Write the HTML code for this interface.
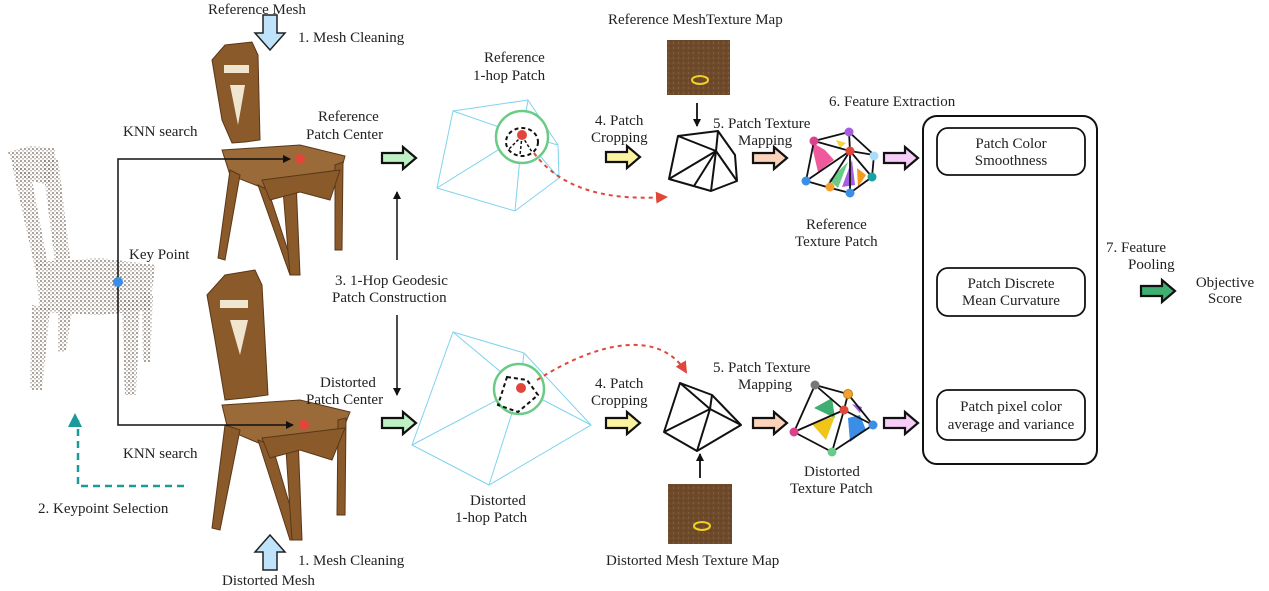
<!DOCTYPE html>
<html><head><meta charset="utf-8"><style>
html,body{margin:0;padding:0;background:#fff;}
svg{display:block;}
text{font-family:"Liberation Serif",serif;font-size:15px;fill:#222;}
</style></head><body>
<svg width="1269" height="591" viewBox="0 0 1269 591" xmlns="http://www.w3.org/2000/svg">
<defs>
<symbol id="ba" viewBox="0 0 36 24" overflow="visible">
<polygon points="1,7 22,7 22,1 35,12 22,23 22,17 1,17" stroke="#111" stroke-width="2.2" stroke-linejoin="miter"/>
</symbol>
<pattern id="dots" width="4" height="4" patternUnits="userSpaceOnUse">
<circle cx="1" cy="1" r="0.9" fill="#3e2e24"/><circle cx="3" cy="2.8" r="0.8" fill="#8a7a70"/>
</pattern>
<pattern id="tex" width="5" height="5" patternUnits="userSpaceOnUse">
<circle cx="1" cy="1" r="0.8" fill="#4a3a30"/><circle cx="3.5" cy="3" r="0.7" fill="#9a7a50"/>
</pattern>
<marker id="ah" markerWidth="8" markerHeight="8" refX="7" refY="4" orient="auto" markerUnits="userSpaceOnUse"><path d="M0,0 L8,4 L0,8 z" fill="#111"/></marker>
<marker id="ahr" markerWidth="12" markerHeight="12" refX="10" refY="6" orient="auto" markerUnits="userSpaceOnUse"><path d="M0,0 L12,6 L0,12 z" fill="#e0473a"/></marker>
<marker id="aht" markerWidth="14" markerHeight="14" refX="7" refY="10" orient="auto" markerUnits="userSpaceOnUse"><path d="M0,0 L14,7 L0,14 z" fill="#1a9a9a"/></marker>
</defs>

<!-- point cloud -->
<g fill="url(#dots)" opacity="0.75">
<path d="M8,152 L30,146 L55,148 L55,170 L48,185 L28,180 L15,170 Z"/>
<path d="M12,165 L30,170 L48,265 L35,268 Z"/>
<path d="M42,160 L58,158 L70,258 L55,262 Z"/>
<path d="M35,262 L100,258 L155,265 L150,310 L100,315 L40,312 Z"/>
<path d="M32,305 L50,308 L42,390 L30,390 Z"/>
<path d="M58,308 L72,310 L66,352 L58,352 Z"/>
<path d="M122,300 L140,300 L136,395 L125,395 Z"/>
<path d="M142,290 L153,295 L150,362 L143,362 Z"/>
</g>

<!-- ref chair -->
<g fill="#8a5a2b" stroke="#5a3718" stroke-width="1">
<path d="M212,60 L225,45 L252,42 L258,55 L260,140 L245,142 L232,143 L222,120 Z"/>
<path d="M222,150 L300,145 L345,156 L340,175 L268,190 L230,175 Z" fill="#9a6a38"/>
<path d="M230,170 L240,175 L225,260 L218,258 Z"/>
<path d="M258,185 L268,190 L296,275 L290,275 Z"/>
<path d="M282,178 L296,180 L300,275 L290,275 Z"/>
<path d="M335,165 L343,162 L342,250 L335,250 Z"/>
<path d="M262,180 L340,170 L330,200 L300,192 L270,200 Z"/>
</g>
<g fill="#f0e6d0"><rect x="224" y="65" width="25" height="8"/><path d="M230,85 L245,85 L238,125 Z"/></g>

<!-- distorted chair -->
<g fill="#8a5a2b" stroke="#5a3718" stroke-width="1">
<path d="M207,295 L225,275 L255,270 L262,285 L268,395 L245,398 L225,400 L215,340 Z"/>
<path d="M222,405 L300,400 L350,412 L342,432 L270,448 L228,430 Z" fill="#9a6a38"/>
<path d="M225,425 L240,430 L220,530 L212,528 Z"/>
<path d="M258,440 L272,445 L300,540 L290,540 Z"/>
<path d="M285,435 L298,436 L302,540 L292,540 Z"/>
<path d="M338,420 L346,418 L345,515 L337,515 Z"/>
<path d="M262,438 L345,428 L332,460 L300,450 L270,458 Z"/>
</g>
<g fill="#f0e6d0"><rect x="220" y="300" width="28" height="8"/><path d="M230,320 L248,320 L240,355 Z"/></g>

<!-- KNN lines -->
<path d="M118,283 L118,159 L290,159" fill="none" stroke="#111" stroke-width="1.5" marker-end="url(#ah)"/>
<path d="M118,283 L118,425 L293,425" fill="none" stroke="#111" stroke-width="1.5" marker-end="url(#ah)"/>
<circle cx="118" cy="282" r="5" fill="#3a8ee8"/>
<circle cx="300" cy="159" r="5" fill="#e0473a"/>
<circle cx="304" cy="425" r="5" fill="#e0473a"/>
<text x="123" y="136">KNN search</text>
<text x="123" y="458">KNN search</text>
<text x="129" y="259">Key Point</text>

<!-- teal dashed -->
<path d="M184,486 L78,486 L78,420" fill="none" stroke="#1a9a9a" stroke-width="2.5" stroke-dasharray="7,5" marker-end="url(#aht)"/>
<text x="38" y="513">2.  Keypoint Selection</text>

<!-- mesh cleaning arrows -->
<polygon points="263,15 277,15 277,33 285,33 270,50 255,33 263,33" fill="#bfe3fb" stroke="#222" stroke-width="1.5"/>
<polygon points="263,570 277,570 277,552 285,552 270,535 255,552 263,552" fill="#bfe3fb" stroke="#222" stroke-width="1.5"/>
<text x="208" y="14">Reference Mesh</text>
<text x="298" y="42">1.  Mesh  Cleaning</text>
<text x="298" y="565">1.  Mesh  Cleaning</text>
<text x="222" y="585">Distorted Mesh</text>

<text x="318" y="121">Reference</text>
<text x="306" y="139">Patch Center</text>
<text x="320" y="387">Distorted</text>
<text x="306" y="404">Patch Center</text>

<!-- green arrows -->
<use href="#ba" x="381" y="146" width="36" height="24" fill="#bff0c4"/>
<use href="#ba" x="381" y="411" width="36" height="24" fill="#bff0c4"/>

<!-- vertical arrows -->
<line x1="397" y1="260" x2="397" y2="192" stroke="#111" stroke-width="1.5" marker-end="url(#ah)"/>
<line x1="397" y1="315" x2="397" y2="395" stroke="#111" stroke-width="1.5" marker-end="url(#ah)"/>
<text x="335" y="285">3.  1-Hop Geodesic</text>
<text x="332" y="302">Patch Construction</text>

<!-- ref patch -->
<g stroke="#7fd3ee" stroke-width="1" fill="none">
<polygon points="453,111 528,100 558,145 559,178 515,211 437,188"/>
<line x1="453" y1="111" x2="522" y2="135"/><line x1="528" y1="100" x2="522" y2="135"/>
<line x1="558" y1="145" x2="522" y2="135"/><line x1="559" y1="178" x2="522" y2="135"/>
<line x1="515" y1="211" x2="522" y2="135"/><line x1="437" y1="188" x2="522" y2="135"/>
</g>
<circle cx="522" cy="137" r="26" fill="#fff" stroke="#6acb87" stroke-width="2.5"/>
<ellipse cx="522" cy="142" rx="16" ry="14" fill="none" stroke="#111" stroke-width="2" stroke-dasharray="4,3"/>
<g stroke="#111" stroke-width="1.5" stroke-dasharray="3,2"><line x1="522" y1="136" x2="508" y2="150"/><line x1="522" y1="136" x2="520" y2="155"/><line x1="522" y1="136" x2="532" y2="152"/></g>
<circle cx="522" cy="135" r="5" fill="#e0473a"/>
<path d="M534,153 C565,195 620,200 666,197" fill="none" stroke="#e0473a" stroke-width="2" stroke-dasharray="4,4" marker-end="url(#ahr)"/>
<text x="484" y="62">Reference</text>
<text x="473" y="80">1-hop Patch</text>

<!-- dist patch -->
<g stroke="#7fd3ee" stroke-width="1" fill="none">
<polygon points="453,332 524,353 591,425 489,485 412,445"/>
<line x1="453" y1="332" x2="520" y2="388"/><line x1="524" y1="353" x2="520" y2="388"/>
<line x1="591" y1="425" x2="520" y2="388"/><line x1="489" y1="485" x2="520" y2="388"/><line x1="412" y1="445" x2="520" y2="388"/>
</g>
<circle cx="519" cy="389" r="25" fill="#fff" stroke="#6acb87" stroke-width="2.5"/>
<path d="M507,377 L527,380 L538,395 L518,412 L498,405 Z" fill="none" stroke="#111" stroke-width="2" stroke-dasharray="4,3"/>
<circle cx="521" cy="388" r="5" fill="#e0473a"/>
<path d="M537,380 C600,340 660,330 686,372" fill="none" stroke="#e0473a" stroke-width="2" stroke-dasharray="4,4" marker-end="url(#ahr)"/>
<text x="470" y="505">Distorted</text>
<text x="455" y="522">1-hop Patch</text>

<!-- patch cropping -->
<text x="595" y="125">4.  Patch</text>
<text x="591" y="142">Cropping</text>
<text x="595" y="388">4.  Patch</text>
<text x="591" y="405">Cropping</text>
<use href="#ba" x="605" y="145" width="36" height="24" fill="#fbf3a0"/>
<use href="#ba" x="605" y="411" width="36" height="24" fill="#fbf3a0"/>

<!-- texture maps -->
<rect x="667" y="40" width="63" height="55" fill="#6e4a2a"/>
<rect x="667" y="40" width="63" height="55" fill="url(#tex)" opacity="0.6"/>
<ellipse cx="700" cy="80" rx="8" ry="4" fill="none" stroke="#f0d020" stroke-width="2"/>
<text x="608" y="24">Reference MeshTexture Map</text>
<line x1="697" y1="103" x2="697" y2="126" stroke="#111" stroke-width="1.8" marker-end="url(#ah)"/>
<rect x="668" y="484" width="64" height="60" fill="#6e4a2a"/>
<rect x="668" y="484" width="64" height="60" fill="url(#tex)" opacity="0.6"/>
<ellipse cx="702" cy="526" rx="8" ry="4" fill="none" stroke="#f0d020" stroke-width="2"/>
<text x="606" y="565">Distorted Mesh Texture Map</text>
<line x1="700" y1="478" x2="700" y2="454" stroke="#111" stroke-width="1.8" marker-end="url(#ah)"/>

<!-- black meshes -->
<g stroke="#111" stroke-width="2" fill="none" stroke-linejoin="round">
<polygon points="678,136 718,131 735,155 737,181 711,191 669,179"/>
<line x1="678" y1="136" x2="716" y2="151"/><line x1="718" y1="131" x2="716" y2="151"/>
<line x1="716" y1="151" x2="669" y2="179"/><line x1="716" y1="151" x2="694" y2="186"/>
<line x1="716" y1="151" x2="711" y2="191"/><line x1="716" y1="151" x2="737" y2="181"/>
<polygon points="680,383 712,395 741,425 697,451 664,432"/>
<line x1="712" y1="395" x2="710" y2="409"/><line x1="680" y1="383" x2="710" y2="409"/>
<line x1="710" y1="409" x2="741" y2="425"/><line x1="710" y1="409" x2="664" y2="432"/><line x1="710" y1="409" x2="697" y2="451"/>
</g>

<!-- patch texture mapping -->
<text x="713" y="128">5.  Patch Texture</text>
<text x="738" y="145">Mapping</text>
<text x="713" y="372">5.  Patch Texture</text>
<text x="738" y="389">Mapping</text>
<use href="#ba" x="752" y="146" width="36" height="24" fill="#fbd3bb"/>
<use href="#ba" x="752" y="411" width="36" height="24" fill="#fbd3bb"/>

<!-- ref texture patch -->
<polygon points="811,142 825,150 834,160 818,172" fill="#ef5a9c"/>
<polygon points="836,140 846,143 840,148" fill="#f5d33a"/>
<polygon points="829,180 848,162 838,188" fill="#6acb87"/>
<polygon points="842,187 852,160 855,185" fill="#a45ee0"/>
<polygon points="857,168 866,175 858,187" fill="#f59a1a"/>
<g stroke="#111" stroke-width="1.8" fill="none">
<polygon points="814,141 849,132 874,155 872,177 850,193 827,187 806,181"/>
<line x1="814" y1="141" x2="850" y2="151"/><line x1="849" y1="132" x2="850" y2="151"/>
<line x1="874" y1="155" x2="850" y2="151"/><line x1="872" y1="177" x2="850" y2="151"/>
<line x1="850" y1="193" x2="850" y2="151"/><line x1="827" y1="187" x2="850" y2="151"/><line x1="806" y1="181" x2="850" y2="151"/>
</g>
<circle cx="814" cy="141" r="4.5" fill="#d9428a"/><circle cx="849" cy="132" r="4.5" fill="#a45ee0"/>
<circle cx="874" cy="156" r="4.5" fill="#a8dcf7"/><circle cx="872" cy="177" r="4.5" fill="#1aa0a0"/>
<circle cx="850" cy="193" r="4.5" fill="#3a8ee8"/><circle cx="830" cy="187" r="4.5" fill="#f5a030"/>
<circle cx="806" cy="181" r="4.5" fill="#3a8ee8"/><circle cx="850" cy="151" r="4.5" fill="#e0473a"/>
<text x="806" y="229">Reference</text>
<text x="795" y="246">Texture Patch</text>

<!-- dist texture patch -->
<polygon points="814,408 832,398 835,418" fill="#3fae72"/>
<polygon points="812,424 835,416 826,440" fill="#f0c419"/>
<polygon points="848,418 860,415 866,430 850,442" fill="#3a8ee8"/>
<polygon points="852,404 862,407 860,413" fill="#a45ee0"/>
<g stroke="#111" stroke-width="1.8" fill="none">
<polygon points="815,385 848,394 873,425 832,452 794,432"/>
<line x1="815" y1="385" x2="844" y2="410"/><line x1="848" y1="394" x2="844" y2="410"/>
<line x1="873" y1="425" x2="844" y2="410"/><line x1="832" y1="452" x2="844" y2="410"/><line x1="794" y1="432" x2="844" y2="410"/>
</g>
<circle cx="815" cy="385" r="4.5" fill="#777"/><circle cx="848" cy="394" r="4.5" fill="#f5a030" stroke="#c08000"/>
<circle cx="873" cy="425" r="4.5" fill="#3a8ee8"/><circle cx="832" cy="452" r="4.5" fill="#6acb87"/>
<circle cx="794" cy="432" r="4.5" fill="#d9428a"/><circle cx="844" cy="410" r="4.5" fill="#e0473a"/>
<text x="804" y="476">Distorted</text>
<text x="790" y="493">Texture Patch</text>

<!-- pink arrows -->
<use href="#ba" x="883" y="146" width="36" height="24" fill="#f6cdf7"/>
<use href="#ba" x="883" y="411" width="36" height="24" fill="#f6cdf7"/>

<!-- feature extraction -->
<text x="829" y="106">6.  Feature Extraction</text>
<rect x="923" y="116" width="174" height="348" rx="14" fill="none" stroke="#111" stroke-width="2"/>
<rect x="937" y="128" width="148" height="47" rx="11" fill="none" stroke="#111" stroke-width="1.8"/>
<text x="1011" y="148" text-anchor="middle">Patch Color</text>
<text x="1011" y="165" text-anchor="middle">Smoothness</text>
<rect x="937" y="268" width="148" height="48" rx="11" fill="none" stroke="#111" stroke-width="1.8"/>
<text x="1011" y="288" text-anchor="middle">Patch Discrete</text>
<text x="1011" y="305" text-anchor="middle">Mean Curvature</text>
<rect x="937" y="390" width="148" height="50" rx="11" fill="none" stroke="#111" stroke-width="1.8"/>
<text x="1011" y="411" text-anchor="middle">Patch pixel color</text>
<text x="1011" y="429" text-anchor="middle">average and variance</text>

<!-- pooling -->
<text x="1106" y="252">7.  Feature</text>
<text x="1128" y="269">Pooling</text>
<use href="#ba" x="1140" y="279" width="36" height="24" fill="#3fae72"/>
<text x="1225" y="287" text-anchor="middle">Objective</text>
<text x="1225" y="303" text-anchor="middle">Score</text>
</svg>
</body></html>
